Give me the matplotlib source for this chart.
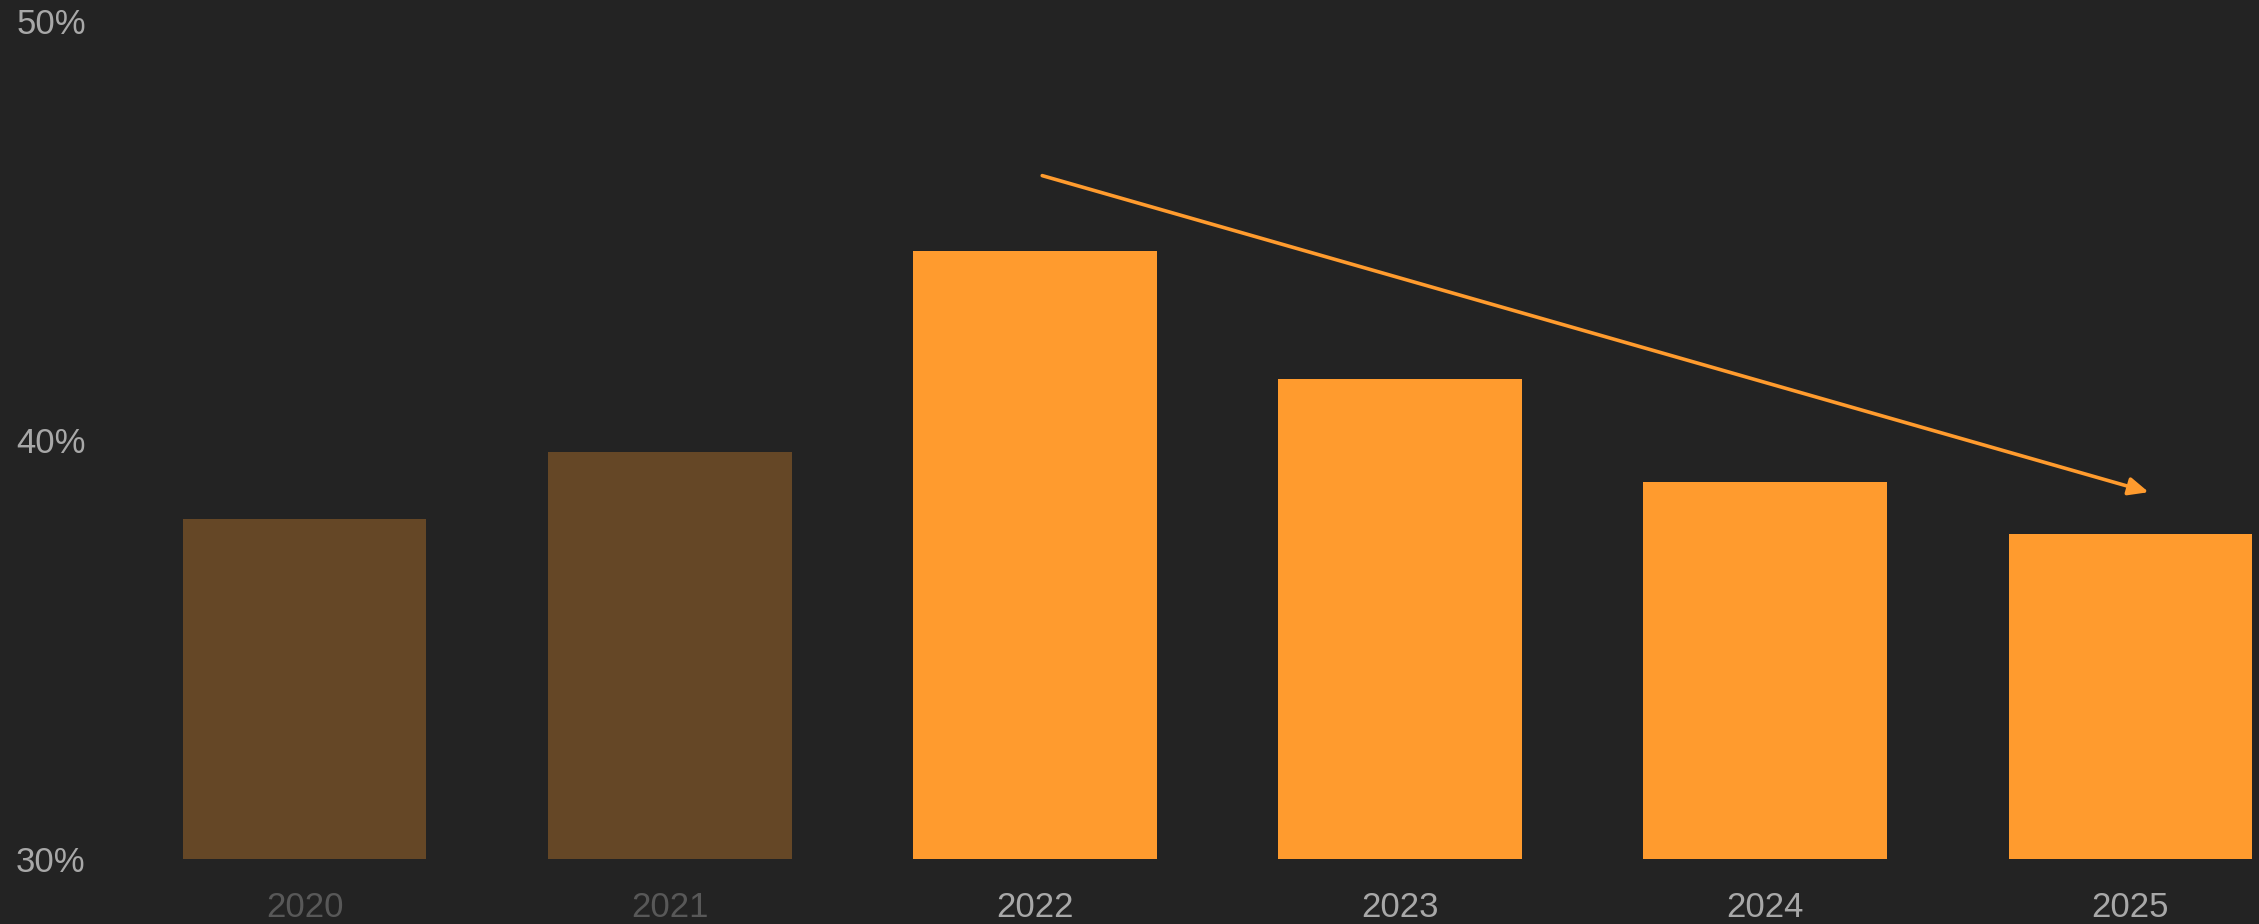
import matplotlib.pyplot as plt

plt.rcParams['font.family'] = ['Liberation Sans', 'DejaVu Sans']

years = ['2020', '2021', '2022', '2023', '2024', '2025']
shares = [38.1, 39.7, 44.5, 41.45, 39.0, 37.75]
dimmed = [True, True, False, False, False, False]
y_ticks = [30, 40, 50]
y_tick_labels = ['30%', '40%', '50%']
trend_start = (2.02, 46.3)
trend_end = (5.05, 38.75)

bg = '#232323'
orange = '#ff9b2e'

fig = plt.figure(figsize=(22.59, 9.24), dpi=100, facecolor=bg)
ax = fig.add_axes([183 / 2259, 65 / 924, (2252 - 183) / 2259, (859 - 20.5) / 924])
ax.set_facecolor(bg)

x = list(range(len(years)))
for i, (v, d) in enumerate(zip(shares, dimmed)):
    ax.bar(i, v - 30, bottom=30, width=0.667, color=orange, alpha=0.3 if d else 1.0, linewidth=0)

# trend arrow
ax.annotate('', xy=trend_end, xytext=trend_start,
            arrowprops=dict(arrowstyle='-|>,head_length=0.4,head_width=0.18', color=orange,
                            lw=2.6, mutation_scale=30, shrinkA=0, shrinkB=0))

ax.set_xlim(-0.333, 5.333)
ax.set_ylim(30, 50)
ax.set_yticks(y_ticks)
ax.set_yticklabels(y_tick_labels, fontsize=25, color='#a8a8a8')
ax.set_xticks(x)
ax.set_xticklabels(years, fontsize=25)
for lab, d in zip(ax.get_xticklabels(), dimmed):
    lab.set_color('#585858' if d else '#a8a8a8')
ax.tick_params(axis='y', length=0, pad=70)
ax.tick_params(axis='x', length=0, pad=23)
for s in ax.spines.values():
    s.set_visible(False)

fig.savefig('out.png', dpi=100, facecolor=bg)
